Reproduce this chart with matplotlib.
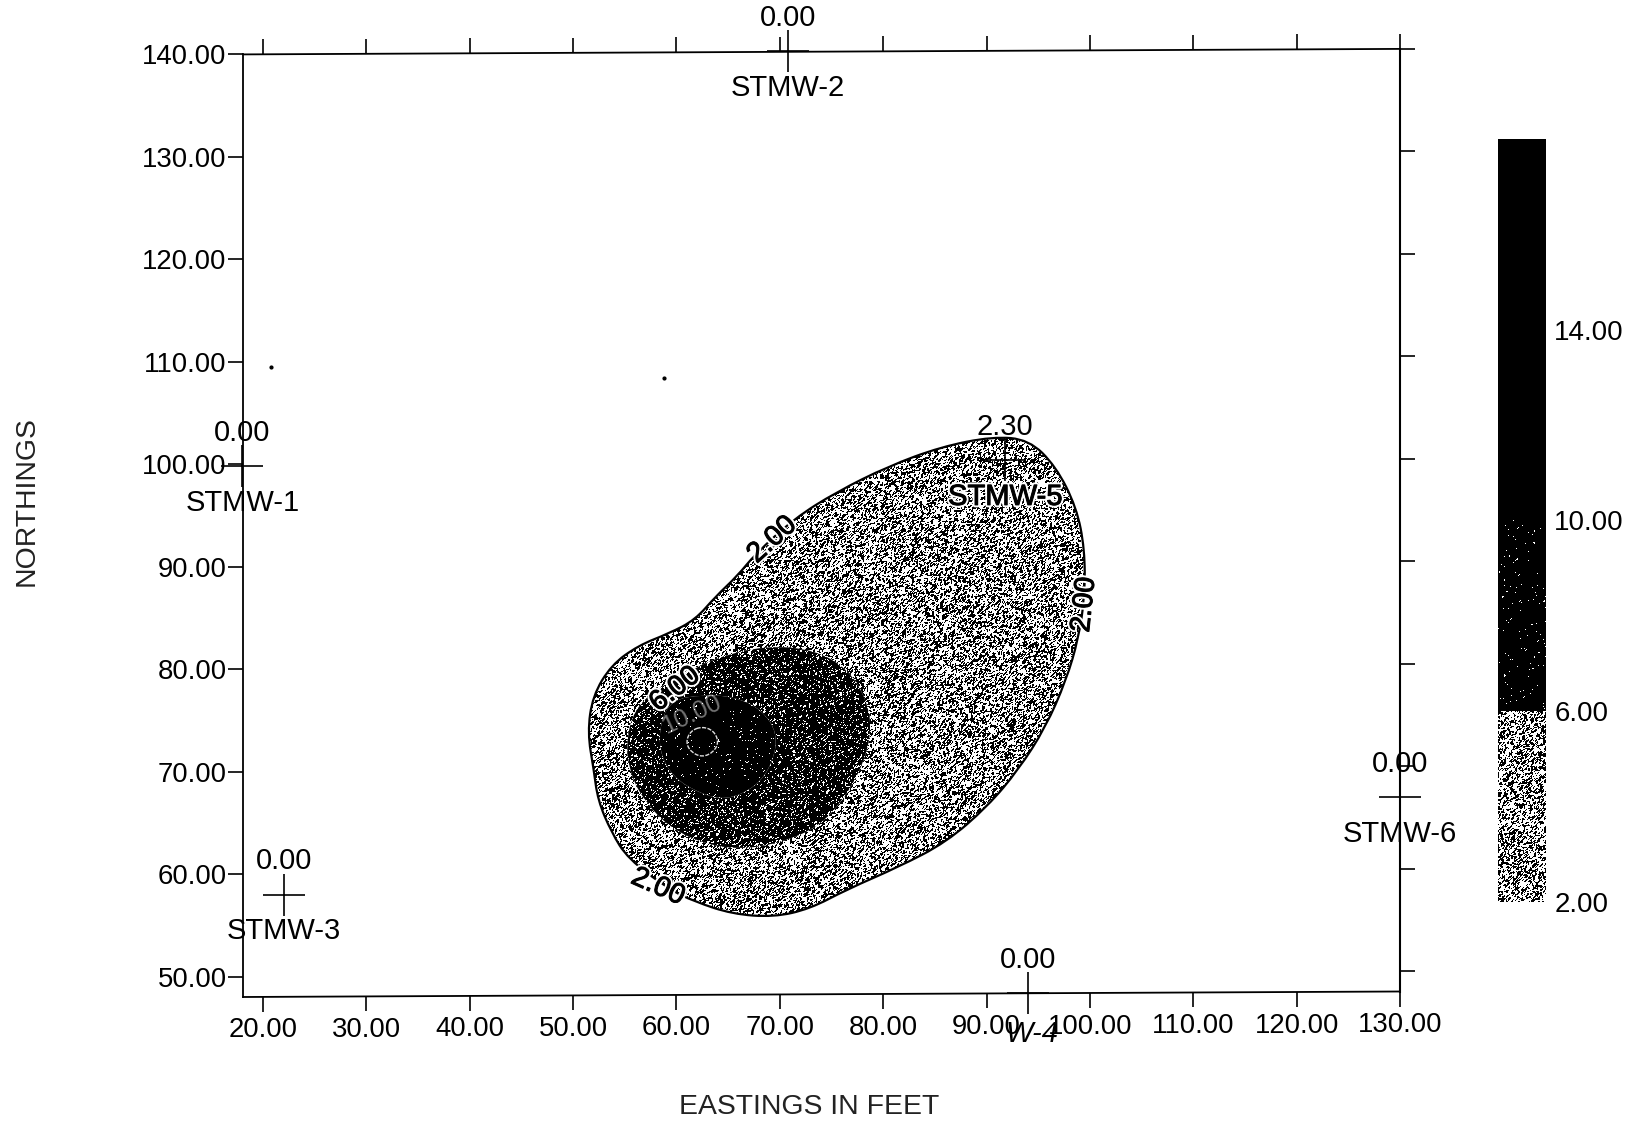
import matplotlib
matplotlib.use('Agg')
import matplotlib.pyplot as plt
import matplotlib.patheffects as pe
import numpy as np
from matplotlib.path import Path
from matplotlib.patches import PathPatch
from matplotlib.transforms import Affine2D

plt.rcParams['font.family'] = ['Liberation Sans', 'DejaVu Sans']

# axis values
x_ticks = [20, 30, 40, 50, 60, 70, 80, 90, 100, 110, 120, 130]
y_ticks = [50, 60, 70, 80, 90, 100, 110, 120, 130, 140]
bar_levels = [2, 6, 10, 14, 18]
bar_labels = [2, 6, 10, 14]

# contours (eastings, northings)
c2_e = [71.4, 75.5, 80.5, 85.6, 90.6, 94.1, 96.7, 98.7, 99.5, 99.5, 98.9, 97.7, 95.7, 93.1, 90.1, 86.1, 81.5,
        76.5, 72.9, 69.4, 65.4, 61.8, 59.3, 55.3, 53.7, 52.4, 52.0, 51.4, 51.9, 53.7, 56.3, 59.3, 61.8, 63.8,
        65.9, 67.6]
c2_n = [94.7, 97.3, 99.8, 101.7, 102.7, 102.4, 99.8, 95.8, 91.7, 87.1, 83.0, 78.9, 74.3, 70.2, 66.6, 63.1, 60.7,
        58.5, 56.6, 55.8, 56.1, 57.3, 58.5, 61.5, 64.1, 67.2, 70.2, 73.8, 77.4, 80.4, 82.3, 83.5, 84.8, 87.1,
        89.1, 91.2]
c6_e = [63.8, 68.6, 73.4, 76.7, 78.4, 78.9, 78.1, 76.4, 73.8, 69.9, 66.1, 62.5, 59.3, 57.1, 55.6, 55.1, 55.9,
        58.0, 60.9]
c6_n = [81.1, 82.3, 81.9, 79.9, 77.0, 74.1, 70.8, 67.6, 64.6, 63.0, 62.4, 63.0, 64.6, 66.9, 69.5, 72.8, 76.0,
        78.0, 79.6]
c10_e = [59.6, 62.5, 65.7, 68.3, 69.8, 69.3, 67.7, 64.8, 62.2, 59.6, 58.3, 58.5]
c10_n = [77.0, 77.5, 77.3, 76.0, 73.7, 70.8, 68.5, 67.2, 67.9, 69.5, 72.1, 75.0]
c14_e = [62.5, 63.6, 64.1, 63.6, 62.5, 61.4, 60.9, 61.4]
c14_n = [74.4, 74.0, 72.9, 71.9, 71.4, 71.9, 72.9, 74.0]

# wells
well_names = ['STMW-1', 'STMW-2', 'STMW-3', 'W-4', 'STMW-5', 'STMW-6']
well_e = [18.0, 70.8, 22.0, 94.0, 91.8, 130.0]
well_n = [99.8, 140.3, 58.0, 48.35, 100.4, 67.5]
well_vals = ['0.00', '0.00', '0.00', '0.00', '2.30', '0.00']

# contour labels: easting, northing, text, rotation
lab_e = [69.3, 99.5, 58.2, 59.9]
lab_n = [92.6, 86.3, 58.7, 78.0]
lab_txt = ['2.00', '2.00', '2.00', '6.00']
lab_rot = [42, 84, -24, 38]

# dirt specks on the scan
speck_e = [20.8, 58.8]
speck_n = [109.5, 108.4]


def smooth_path(xs, ys):
    # closed curve with the read points as quadratic control points
    n = len(xs)
    mx = [(xs[i] + xs[(i + 1) % n]) / 2 for i in range(n)]
    my = [(ys[i] + ys[(i + 1) % n]) / 2 for i in range(n)]
    verts = [(mx[-1], my[-1])]
    codes = [Path.MOVETO]
    for i in range(n):
        verts += [(xs[i], ys[i]), (mx[i], my[i])]
        codes += [Path.CURVE3, Path.CURVE3]
    return Path(verts, codes)


def tilt(v):
    # the scan has the horizontal axes running slightly uphill
    return Affine2D().translate(0, 5.5 * (v - 18) / 112)


def speckle(rows, cols, black):
    # photocopy grain, only a fill texture and no chart values
    j, i = np.meshgrid(np.arange(cols, dtype=np.uint64), np.arange(rows, dtype=np.uint64))
    h = i * np.uint64(73856093) + j * np.uint64(19349663) + np.uint64(1234567)
    for shift in (np.uint64(29), np.uint64(31)):
        h = (h ^ (h >> shift)) * np.uint64(0x9E3779B97F4A7C15)
    h = (h >> np.uint64(40)).astype(float)
    blur = h + np.roll(h, 1, axis=0) + np.roll(h, 1, axis=1)
    return blur > np.quantile(blur, black)


def fill_region(axis, path, black, zorder):
    patch = PathPatch(path, facecolor='white', edgecolor='none', zorder=zorder - 0.1)
    axis.add_patch(patch)
    ext = path.get_extents()
    tex = speckle(int(ext.height * 10.25) + 2, int(ext.width * 10.36) + 2, black)
    im = axis.imshow(tex, cmap='gray', vmin=0, vmax=1, interpolation='nearest', aspect='auto',
                     extent=[ext.x0, ext.x1, ext.y0, ext.y1], zorder=zorder)
    im.set_clip_path(patch)


fig = plt.figure(figsize=(16.41, 11.22), dpi=100)
ax = fig.add_axes([243 / 1641, 125 / 1122, 1157 / 1641, 942.6 / 1122])

fill_region(ax, smooth_path(c2_e, c2_n), 0.45, 1)
fill_region(ax, smooth_path(c6_e, c6_n), 0.86, 2)
fill_region(ax, smooth_path(c10_e, c10_n), 0.975, 3)
ax.add_patch(PathPatch(smooth_path(c2_e, c2_n), fill=False, edgecolor='black', linewidth=1.6, zorder=3.5))
ax.add_patch(PathPatch(smooth_path(c14_e, c14_n), fill=False, edgecolor='#dddddd', linewidth=1.0,
                       linestyle=(0, (3, 1)), zorder=4))
ax.set_xlim(18.07, 129.8)
ax.set_ylim(48.0, 140.0)

heavy = [pe.Stroke(linewidth=3.5, foreground='white'), pe.Stroke(linewidth=0.7, foreground='black'), pe.Normal()]
for e, n, t, r in zip(lab_e, lab_n, lab_txt, lab_rot):
    ax.text(e, n, t, fontsize=20.5, rotation=r, ha='center', va='center', rotation_mode='anchor', zorder=6,
            path_effects=heavy)
ax.text(61.5, 75.6, '10.00', fontsize=18, rotation=25, ha='center', va='center', color='white', alpha=0.45, zorder=5)

ax.plot(well_e, well_n, linestyle='none', marker='+', markersize=30, markeredgewidth=1.2, color='black',
        clip_on=False, zorder=7)
for e, n, name, val in zip(well_e, well_n, well_names, well_vals):
    inside = val == '2.30'
    ax.annotate(val, (e, n), xytext=(0, 24), textcoords='offset points', ha='center', va='center', fontsize=21,
                annotation_clip=False, zorder=8)
    if name == 'W-4':
        ax.annotate(name, (e, n), xytext=(3, -29), textcoords='offset points', ha='center', va='center',
                    fontsize=21, style='italic', annotation_clip=False, zorder=8)
    else:
        ax.annotate(name, (e, n), xytext=(0, -26.5), textcoords='offset points', ha='center', va='center',
                    fontsize=21, annotation_clip=False, zorder=8, path_effects=heavy if inside else None)
ax.plot(speck_e, speck_n, linestyle='none', marker='o', markersize=2, color='black')

ax.set_xticks(x_ticks, ['%.2f' % v for v in x_ticks])
ax.set_yticks(y_ticks, ['%.2f' % v for v in y_ticks])
ax.tick_params(axis='x', bottom=True, top=True, direction='out', length=10.8, width=1.2, labelsize=19.8, pad=4)
ax.tick_params(axis='y', left=True, right=True, direction='out', length=10.8, width=1.2, labelsize=19.8, pad=1)
ax.set_xlabel('EASTINGS IN FEET', fontsize=20.4, color='#222222')
ax.set_ylabel('NORTHINGS', fontsize=20.4, color='#222222')
ax.xaxis.set_label_coords(0.489, -0.1025)
ax.yaxis.set_label_coords(-0.1754, 0.526)

fig.canvas.draw()
for tick, v in zip(ax.xaxis.get_major_ticks(), x_ticks):
    for art in (tick.tick1line, tick.tick2line, tick.label1):
        art.set_transform(art.get_transform() + tilt(v))
for tick in ax.yaxis.get_major_ticks():
    tick.tick2line.set_transform(tick.tick2line.get_transform() + tilt(130))

# frame, drawn by hand because of the tilt
for s in ('top', 'bottom', 'right'):
    ax.spines[s].set_visible(False)
ax.spines['left'].set_linewidth(1.3)
rise = 5.5 / 942.6
ax.plot([0, 1], [0, rise], transform=ax.transAxes, color='black', linewidth=1.3, clip_on=False)
ax.plot([0, 1], [1, 1 + rise], transform=ax.transAxes, color='black', linewidth=1.3, clip_on=False)
ax.plot([1, 1], [rise, 1 + rise], transform=ax.transAxes, color='black', linewidth=1.5, clip_on=False)

# legend bar
cax = fig.add_axes([1498 / 1641, 220 / 1122, 48 / 1641, 763 / 1122])
for k, black in enumerate([0.45, 0.985, 1.0, 1.0]):
    low, high = bar_levels[k], bar_levels[k + 1]
    tex = speckle(190, 48, black)
    cax.imshow(tex, cmap='gray', vmin=0, vmax=1, interpolation='nearest', aspect='auto', extent=[0, 1, low, high])
cax.set_xlim(0, 1)
cax.set_ylim(bar_levels[0], bar_levels[-1])
cax.set_xticks([])
cax.set_yticks(bar_labels, ['%.2f' % v for v in bar_labels])
cax.yaxis.tick_right()
cax.tick_params(axis='y', length=0, labelsize=20, pad=6)
for s in cax.spines.values():
    s.set_visible(False)

fig.savefig('out.png', dpi=100)
